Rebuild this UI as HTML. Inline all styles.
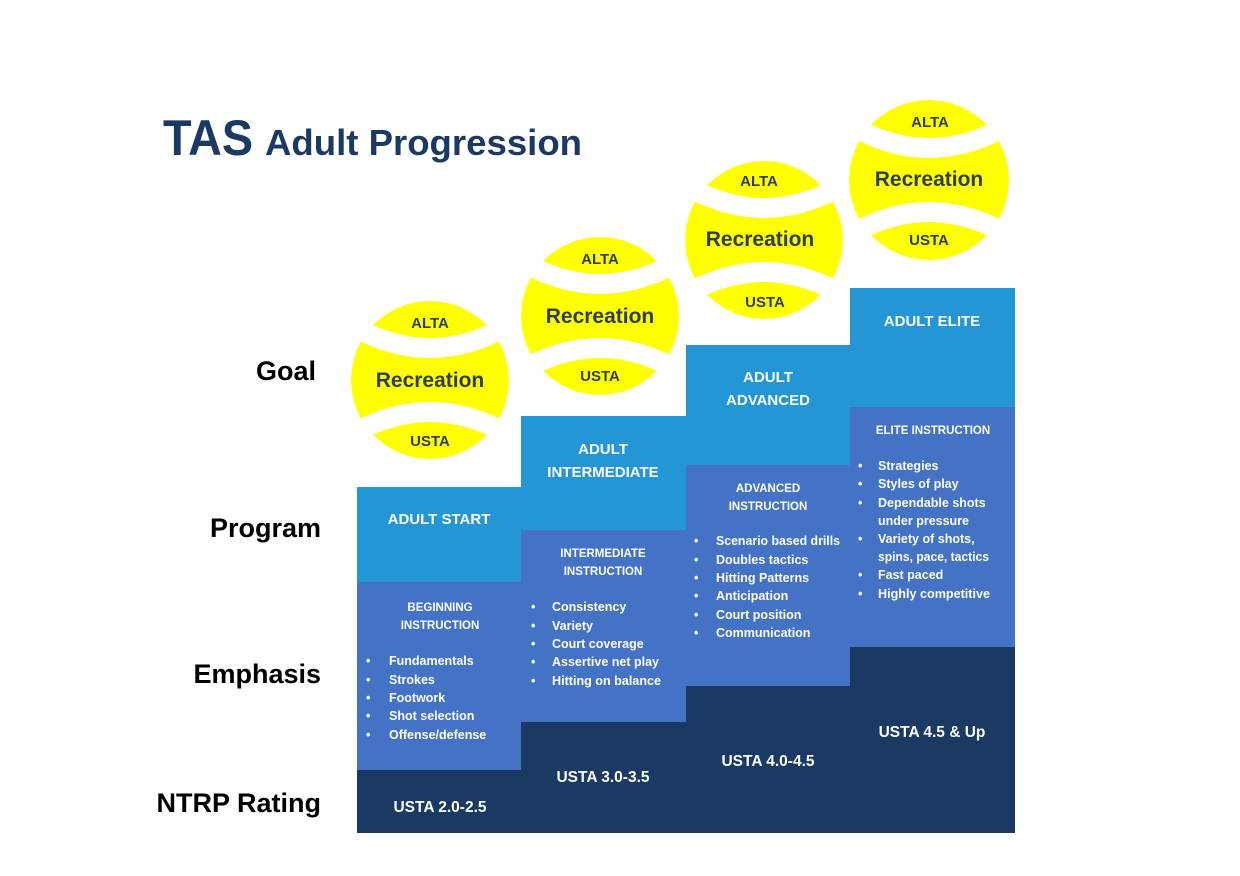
<!DOCTYPE html>
<html><head><meta charset="utf-8"><style>
html,body{margin:0;padding:0;background:#fff;width:1240px;height:876px;overflow:hidden}
svg{display:block;font-family:"Liberation Sans",Arial,sans-serif;font-weight:bold}
</style></head><body>
<svg width="1240" height="876" viewBox="0 0 1240 876" xmlns="http://www.w3.org/2000/svg">
<defs>
<clipPath id="c1"><circle cx="430" cy="380" r="79"/></clipPath>
<clipPath id="c2"><circle cx="600" cy="316" r="79"/></clipPath>
<clipPath id="c3"><circle cx="764" cy="240" r="79"/></clipPath>
<clipPath id="c4"><circle cx="929" cy="180" r="80"/></clipPath>
</defs>
<text x="163" y="155" font-size="50" fill="#1a3a64" textLength="90" lengthAdjust="spacingAndGlyphs">TAS</text>
<text x="265" y="155" font-size="36" fill="#1a3a64" textLength="317" lengthAdjust="spacingAndGlyphs">Adult Progression</text>

<g font-size="27" fill="#000" text-anchor="end">
<text x="316" y="380">Goal</text>
<text x="321" y="537">Program</text>
<text x="321" y="683">Emphasis</text>
<text x="321" y="812">NTRP Rating</text>
</g>

<g fill="#ffff00" stroke="none">
<g clip-path="url(#c1)"><circle cx="430" cy="380" r="79"/><path d="M346 322 Q430 374 514 322 M346 438 Q430 386 514 438" stroke="#fff" stroke-width="20" fill="none"/></g>
<g clip-path="url(#c2)"><circle cx="600" cy="316" r="79"/><path d="M516 258 Q600 310 684 258 M516 374 Q600 322 684 374" stroke="#fff" stroke-width="20" fill="none"/></g>
<g clip-path="url(#c3)"><circle cx="764" cy="240" r="79"/><path d="M680 182 Q764 234 848 182 M680 298 Q764 246 848 298" stroke="#fff" stroke-width="20" fill="none"/></g>
<g clip-path="url(#c4)"><circle cx="929" cy="180" r="80"/><path d="M845 122 Q929 174 1013 122 M845 238 Q929 186 1013 238" stroke="#fff" stroke-width="20" fill="none"/></g>
</g>
<g fill="#2e3e58" text-anchor="middle">
<g font-size="15"><text x="430" y="328">ALTA</text><text x="430" y="446">USTA</text>
<text x="600" y="264">ALTA</text><text x="600" y="381">USTA</text>
<text x="759" y="186">ALTA</text><text x="765" y="307">USTA</text>
<text x="930" y="127">ALTA</text><text x="929" y="245">USTA</text></g>
<g font-size="21"><text x="430" y="387">Recreation</text><text x="600" y="323">Recreation</text>
<text x="760" y="246">Recreation</text><text x="929" y="186">Recreation</text></g>
</g>

<rect x="357" y="487" width="164" height="100" fill="#2496d6"/>
<rect x="357" y="582" width="164" height="188" fill="#4472c4"/>
<rect x="357" y="770" width="164" height="63" fill="#1a3a64"/>
<rect x="521" y="416" width="165" height="114" fill="#2496d6"/>
<rect x="521" y="530" width="165" height="192" fill="#4472c4"/>
<rect x="521" y="722" width="165" height="111" fill="#1a3a64"/>
<rect x="686" y="345" width="164" height="120" fill="#2496d6"/>
<rect x="686" y="465" width="164" height="221" fill="#4472c4"/>
<rect x="686" y="686" width="164" height="147" fill="#1a3a64"/>
<rect x="850" y="288" width="165" height="119" fill="#2496d6"/>
<rect x="850" y="407" width="165" height="240" fill="#4472c4"/>
<rect x="850" y="647" width="165" height="186" fill="#1a3a64"/>

<g fill="#fff" text-anchor="middle" font-size="15">
<text x="439" y="524">ADULT START</text>
<text x="603" y="454">ADULT</text><text x="603" y="477">INTERMEDIATE</text>
<text x="768" y="382">ADULT</text><text x="768" y="405">ADVANCED</text>
<text x="932" y="326">ADULT ELITE</text>
<g font-size="15.5">
<text x="440" y="812">USTA 2.0-2.5</text>
<text x="603" y="782">USTA 3.0-3.5</text>
<text x="768" y="766">USTA 4.0-4.5</text>
<text x="932" y="737">USTA 4.5 &amp; Up</text>
</g>
<g font-size="11.5">
<text x="440" y="611">BEGINNING</text><text x="440" y="629">INSTRUCTION</text>
<text x="603" y="557">INTERMEDIATE</text><text x="603" y="575">INSTRUCTION</text>
<text x="768" y="492">ADVANCED</text><text x="768" y="510">INSTRUCTION</text>
<text x="933" y="434">ELITE INSTRUCTION</text>
</g>
</g>
<g fill="#fff" font-size="12.5">
<g><text x="366" y="665">•</text><text x="389" y="665">Fundamentals</text>
<text x="366" y="684">•</text><text x="389" y="684">Strokes</text>
<text x="366" y="702">•</text><text x="389" y="702">Footwork</text>
<text x="366" y="720">•</text><text x="389" y="720">Shot selection</text>
<text x="366" y="739">•</text><text x="389" y="739">Offense/defense</text></g>
<g><text x="531" y="611">•</text><text x="552" y="611">Consistency</text>
<text x="531" y="630">•</text><text x="552" y="630">Variety</text>
<text x="531" y="648">•</text><text x="552" y="648">Court coverage</text>
<text x="531" y="666">•</text><text x="552" y="666">Assertive net play</text>
<text x="531" y="685">•</text><text x="552" y="685" textLength="109" lengthAdjust="spacingAndGlyphs">Hitting on balance</text></g>
<g><text x="694" y="545">•</text><text x="716" y="545" textLength="124" lengthAdjust="spacingAndGlyphs">Scenario based drills</text>
<text x="694" y="564">•</text><text x="716" y="564">Doubles tactics</text>
<text x="694" y="582">•</text><text x="716" y="582">Hitting Patterns</text>
<text x="694" y="600">•</text><text x="716" y="600">Anticipation</text>
<text x="694" y="619">•</text><text x="716" y="619">Court position</text>
<text x="694" y="637">•</text><text x="716" y="637">Communication</text></g>
<g><text x="858" y="470">•</text><text x="878" y="470">Strategies</text>
<text x="858" y="488">•</text><text x="878" y="488">Styles of play</text>
<text x="858" y="507">•</text><text x="878" y="507">Dependable shots</text>
<text x="878" y="525">under pressure</text>
<text x="858" y="543">•</text><text x="878" y="543">Variety of shots,</text>
<text x="878" y="561" textLength="111" lengthAdjust="spacingAndGlyphs">spins, pace, tactics</text>
<text x="858" y="579">•</text><text x="878" y="579">Fast paced</text>
<text x="858" y="598">•</text><text x="878" y="598" textLength="112" lengthAdjust="spacingAndGlyphs">Highly competitive</text></g>
</g>
</svg>
</body></html>
